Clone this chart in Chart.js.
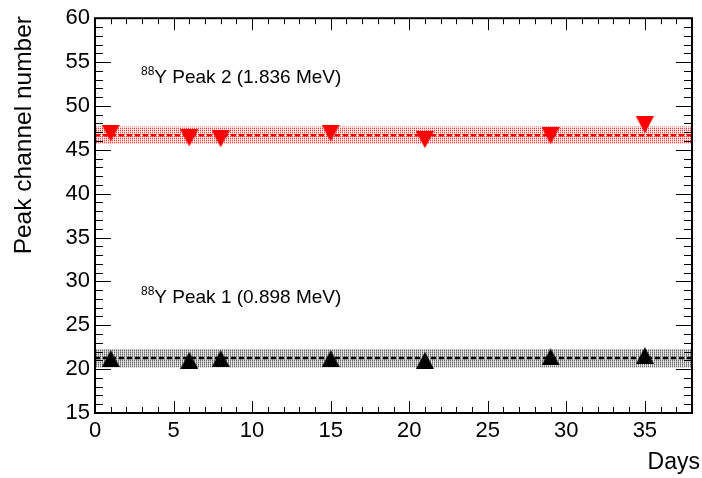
<!DOCTYPE html>
<html>
<head>
<meta charset="utf-8">
<script src="https://cdn.jsdelivr.net/npm/chart.js@4.4.0/dist/chart.umd.min.js"></script>
<style>
  body { margin: 0; background: #fff; }
  #c { display: block; }
</style>
</head>
<body>
<canvas id="c" width="702" height="478"></canvas>
<script>
// measurement days and fitted peak positions
const days = [1, 6, 8, 15, 21, 29, 35];
const peak2 = [46.9, 46.35, 46.25, 46.9, 46.15, 46.6, 47.85];
const peak1 = [21.2, 21.0, 21.2, 21.2, 21.0, 21.4, 21.55];

// mean and band of each peak
const peak2Mean = 46.67;
const peak2Band = [45.65, 47.66];
const peak1Mean = 21.28;
const peak1Band = [20.2, 22.3];

const xRange = [0, 38];
const yRange = [15, 60];

function pts(xs, ys) {
  return xs.map((x, i) => ({x: x, y: ys[i]}))
}
function flat(v) {
  return [{x: xRange[0], y: v}, {x: xRange[1], y: v}]
}

function makePattern(c00, c10, c01, c11) {
  const p = document.createElement('canvas')
  p.width = 2; p.height = 2
  const g = p.getContext('2d')
  g.fillStyle = c00; g.fillRect(0, 0, 1, 1)
  g.fillStyle = c10; g.fillRect(1, 0, 1, 1)
  g.fillStyle = c01; g.fillRect(0, 1, 1, 1)
  g.fillStyle = c11; g.fillRect(1, 1, 1, 1)
  return document.getElementById('c').getContext('2d').createPattern(p, 'repeat')
}

function triangle(color, up) {
  const w = 18, h = 17
  const t = document.createElement('canvas')
  t.width = w; t.height = h
  const g = t.getContext('2d')
  g.fillStyle = color
  g.beginPath()
  if (up) {
    g.moveTo(w / 2, 0); g.lineTo(w, h); g.lineTo(0, h)
  } else {
    g.moveTo(0, 0); g.lineTo(w, 0); g.lineTo(w / 2, h)
  }
  g.closePath()
  g.fill()
  return t
}

const redPattern = makePattern('#ff3a3a', '#ffe4e4', '#ffc2c2', '#fff4f4')
const grayPattern = makePattern('#666666', '#dcdcdc', '#a4a4a4', '#e8e8e8')

const frame = {
  id: 'frame',
  afterDraw(chart) {
    const ctx = chart.ctx
    const a = chart.chartArea
    const xs = chart.scales.x, ys = chart.scales.y
    ctx.save()
    ctx.strokeStyle = '#000'
    ctx.lineWidth = 1
    ctx.beginPath()
    for (let v = xRange[0]; v <= xRange[1]; v++) {
      const px = Math.round(xs.getPixelForValue(v)) + 0.5
      const len = v % 5 === 0 ? 12 : 6
      ctx.moveTo(px, a.bottom); ctx.lineTo(px, a.bottom - len)
      ctx.moveTo(px, a.top); ctx.lineTo(px, a.top + len)
    }
    for (let v = yRange[0]; v <= yRange[1]; v++) {
      const py = Math.round(ys.getPixelForValue(v)) + 0.5
      const len = v % 5 === 0 ? 16 : 8
      ctx.moveTo(a.left, py); ctx.lineTo(a.left + len, py)
      ctx.moveTo(a.right, py); ctx.lineTo(a.right - len, py)
    }
    ctx.stroke()
    ctx.lineWidth = 2
    ctx.strokeRect(a.left, a.top, a.right - a.left, a.bottom - a.top)

    // titles
    ctx.fillStyle = '#000'
    ctx.font = '23px "Liberation Sans"'
    ctx.textAlign = 'right'
    ctx.textBaseline = 'alphabetic'
    ctx.fillText('Days', 700, 469)
    ctx.save()
    ctx.translate(31, 16)
    ctx.rotate(-Math.PI / 2)
    ctx.font = '24.5px "Liberation Sans"'
    ctx.fillText('Peak channel number', 0, 0)
    ctx.restore()

    // peak labels
    ctx.textAlign = 'left'
    const label = (txt, x, y) => {
      ctx.font = '12px "Liberation Sans"'
      ctx.fillText('88', x, y - 8)
      const w = ctx.measureText('88').width
      ctx.font = '19px "Liberation Sans"'
      ctx.fillText(txt, x + w, y)
    }
    label('Y Peak 2 (1.836 MeV)', 141, 83)
    label('Y Peak 1 (0.898 MeV)', 141, 303)
    ctx.restore()
  }
}

const tickFont = {family: 'Liberation Sans', size: 22}

new Chart(document.getElementById('c'), {
  type: 'line',
  data: {
    datasets: [
      {
        label: 'Peak 2',
        data: pts(days, peak2),
        showLine: false,
        pointStyle: triangle('#ff0000', false),
        pointRadius: 9
      },
      {
        label: 'Peak 1',
        data: pts(days, peak1),
        showLine: false,
        pointStyle: triangle('#000000', true),
        pointRadius: 9
      },
      {
        label: 'Peak 2 mean',
        data: flat(peak2Mean),
        borderColor: '#ff0000',
        borderWidth: 2.5,
        borderDash: [5, 3],
        pointRadius: 0
      },
      {
        label: 'Peak 1 mean',
        data: flat(peak1Mean),
        borderColor: '#000000',
        borderWidth: 2.5,
        borderDash: [5, 3],
        pointRadius: 0
      },
      {
        label: 'Peak 2 band hi',
        data: flat(peak2Band[1]),
        borderWidth: 0,
        pointRadius: 0
      },
      {
        label: 'Peak 2 band lo',
        data: flat(peak2Band[0]),
        borderWidth: 0,
        pointRadius: 0,
        fill: '-1',
        backgroundColor: redPattern
      },
      {
        label: 'Peak 1 band hi',
        data: flat(peak1Band[1]),
        borderWidth: 0,
        pointRadius: 0
      },
      {
        label: 'Peak 1 band lo',
        data: flat(peak1Band[0]),
        borderWidth: 0,
        pointRadius: 0,
        fill: '-1',
        backgroundColor: grayPattern
      }
    ]
  },
  options: {
    responsive: false,
    animation: false,
    events: [],
    layout: { padding: { top: 16, right: 6, left: 0, bottom: 0 } },
    plugins: {
      legend: { display: false },
      tooltip: { enabled: false }
    },
    scales: {
      x: {
        type: 'linear',
        min: xRange[0],
        max: xRange[1],
        grid: { display: false, drawTicks: false },
        border: { display: false },
        ticks: { stepSize: 5, font: tickFont, color: '#000', padding: 5, maxRotation: 0 },
        afterBuildTicks(s) { s.ticks = s.ticks.filter(t => t.value % 5 === 0) },
        afterFit(s) { s.height = 65 }
      },
      y: {
        type: 'linear',
        min: yRange[0],
        max: yRange[1],
        grid: { display: false, drawTicks: false },
        border: { display: false },
        ticks: { stepSize: 5, font: tickFont, color: '#000', padding: 5 },
        afterFit(s) { s.width = 95 }
      }
    }
  },
  plugins: [frame]
})
</script>
</body>
</html>
